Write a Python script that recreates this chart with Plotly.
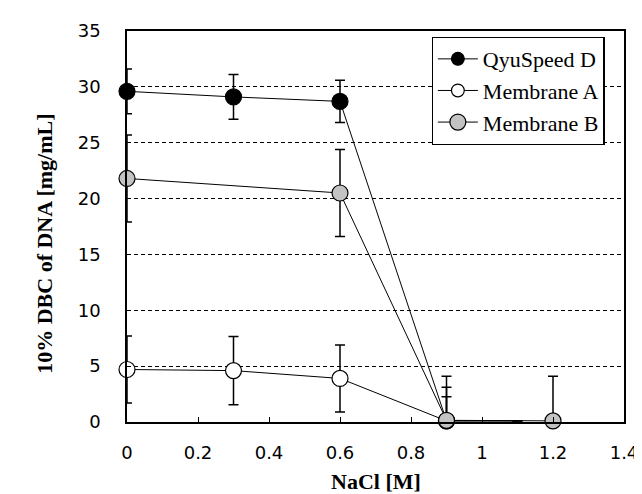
import plotly.graph_objects as go

# Data
qyu_x = [0, 0.3, 0.6, 0.9, 1.1]
qyu_y = [29.6, 29.1, 28.7, 0.1, 0.1]
qyu_err_plus = [2.0, 2.0, 1.9, 4.0, 0]
qyu_err_minus = [2.0, 2.0, 1.9, 0, 0]

memA_x = [0, 0.3, 0.6, 0.9, 1.1]
memA_y = [4.7, 4.6, 3.9, 0.1, 0.1]
memA_err_plus = [3.0, 3.05, 3.0, 3.0, 0]
memA_err_minus = [3.0, 3.05, 3.0, 0, 0]

memB_x = [0, 0.6, 0.9, 1.2]
memB_y = [21.8, 20.5, 0.15, 0.1]
memB_err_plus = [3.9, 3.9, 2.1, 4.0]
memB_err_minus = [3.9, 3.9, 0, 0]

series_names = ["QyuSpeed D", "Membrane A", "Membrane B"]
x_title = "NaCl [M]"
y_title = "10% DBC of DNA [mg/mL]"

SERIF = "Liberation Serif"
SANS = "DejaVu Sans"

def marker_sizes(xs):
    return [0 if x == 1.1 else 16 for x in xs]

series = [
    (series_names[0], qyu_x, qyu_y, qyu_err_plus, qyu_err_minus, "#000000"),
    (series_names[1], memA_x, memA_y, memA_err_plus, memA_err_minus, "#ffffff"),
    (series_names[2], memB_x, memB_y, memB_err_plus, memB_err_minus, "#c3c3c3"),
]

fig = go.Figure()
for i, (name, xs, ys, ep, em, fill) in enumerate(series):
    fig.add_trace(go.Scatter(
        x=xs, y=ys,
        name=f"<span style='font-family:Liberation Serif, serif'>{name}</span>",
        mode="lines+markers",
        legendgroup=f"g{i}",
        line=dict(color="black", width=1),
        marker=dict(size=marker_sizes(xs), color=fill, opacity=1,
                    line=dict(color="black", width=1.2)),
        error_y=dict(type="data", symmetric=False, array=ep, arrayminus=em,
                     color="black", thickness=1.5, width=5),
        cliponaxis=False,
    ))

fig.update_layout(
    width=642, height=494,
    margin=dict(l=119, r=17, t=22, b=80),
    font=dict(family=SERIF, color="black"),
    paper_bgcolor="white", plot_bgcolor="white",
    showlegend=True,
    legend=dict(x=0.613, y=0.985, xanchor="left", yanchor="top",
                bgcolor="white", bordercolor="black", borderwidth=1.2,
                font=dict(family=SERIF, size=22, color="black"),
                traceorder="grouped", tracegroupgap=0, itemwidth=40),
    xaxis=dict(range=[0, 1.4], dtick=0.2, ticks="inside", ticklen=5,
               tickcolor="black", showline=True, mirror=True,
               linecolor="black", linewidth=1.5, showgrid=False,
               zeroline=False, ticklabelstandoff=14,
               tickfont=dict(family=SANS, size=18, color="black")),
    yaxis=dict(range=[0, 35], dtick=5, ticks="inside", ticklen=4,
               tickcolor="black", showline=True, mirror=True,
               linecolor="black", linewidth=1.5, showgrid=True,
               gridcolor="black", gridwidth=1, griddash="4px,3px",
               zeroline=False, ticklabelstandoff=21,
               tickfont=dict(family=SANS, size=18, color="black")),
    annotations=[
        dict(text=f"<b>{x_title}</b>", xref="paper", yref="paper",
             x=0.5, y=-0.152, xanchor="center", yanchor="middle",
             showarrow=False, font=dict(family=SERIF, size=22, color="black")),
        dict(text=f"<b>{y_title}</b>", xref="paper", yref="paper",
             x=-0.166, y=0.457, xanchor="center", yanchor="middle",
             textangle=-90, showarrow=False,
             font=dict(family=SERIF, size=22, color="black")),
    ],
)

fig.write_html("out.html")
